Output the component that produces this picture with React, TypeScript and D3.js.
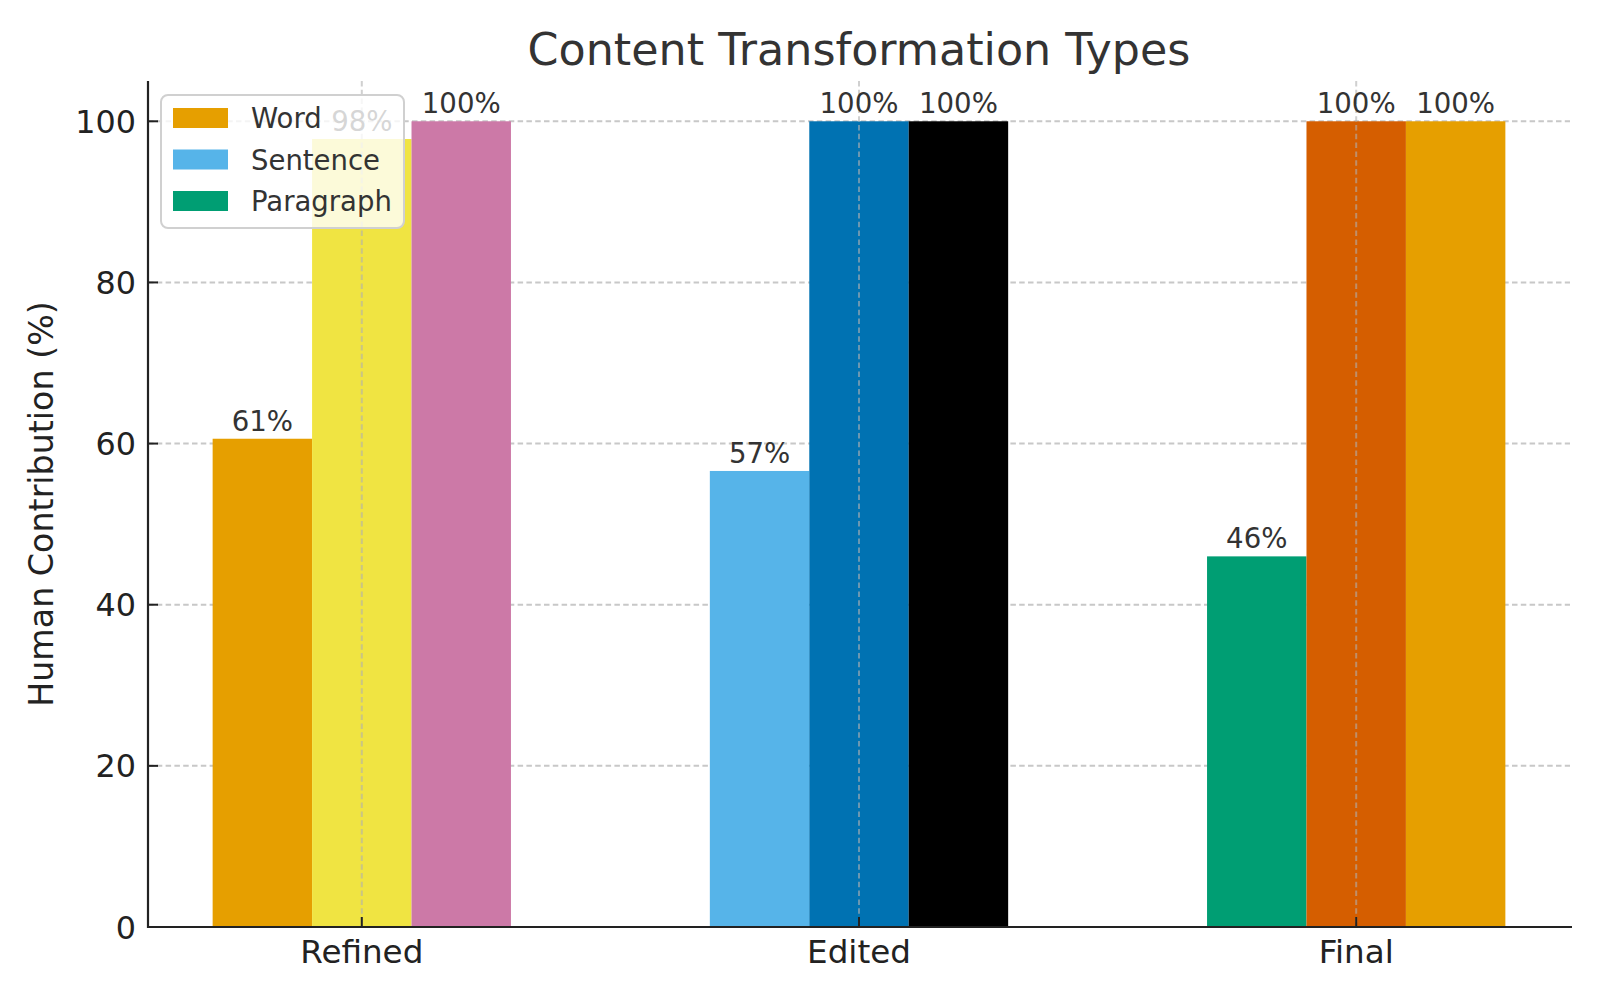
import React from "react";
import * as d3 from "d3";

const categories = ["Refined", "Edited", "Final"];
const firstBarValues = [60.6, 56.6, 46.0];
const secondBarValues = [97.8, 100, 100];
const thirdBarValues = [100, 100, 100];
const barColors = [
  ["#E69F00", "#F0E442", "#CC79A7"],
  ["#56B4E9", "#0072B2", "#000000"],
  ["#009E73", "#D55E00", "#E69F00"],
];
const legendLabels = ["Word", "Sentence", "Paragraph"];
const legendColors = ["#E69F00", "#56B4E9", "#009E73"];
const yTicks = [0, 20, 40, 60, 80, 100];
const barOffsets = [-0.2, 0, 0.2];
const barWidth = 0.2;

const W = 1600;
const H = 1000;
const left = 148;
const right = 1570;
const top = 81;
const bottom = 927;
const font = "DejaVu Sans, sans-serif";

export default function App() {
  const x = d3.scaleLinear().domain([-0.43, 2.43]).range([left, right]);
  const y = d3.scaleLinear().domain([0, 105]).range([bottom, top]);
  const series = [firstBarValues, secondBarValues, thirdBarValues];
  const bw = x(barWidth) - x(0);

  const bars: any[] = [];
  const labels: any[] = [];
  categories.forEach((c, ci) => {
    series.forEach((s, si) => {
      const v = s[ci];
      const cx = x(ci + barOffsets[si]);
      bars.push(
        <rect
          key={`b${ci}-${si}`}
          x={cx - bw / 2}
          y={y(v)}
          width={bw}
          height={bottom - y(v)}
          fill={barColors[ci][si]}
        />
      );
      labels.push(
        <text
          key={`l${ci}-${si}`}
          x={cx}
          y={y(v) - 8}
          textAnchor="middle"
          fontSize={27.6}
          fill="#333"
        >
          {`${Math.round(v)}%`}
        </text>
      );
    });
  });

  return (
    <svg width={W} height={H} style={{ display: "block", margin: -8 }} fontFamily={font}>
      <rect width={W} height={H} fill="#fff" />
      {/* horizontal grid behind bars */}
      {yTicks.map((t) => (
        <line
          key={`hg${t}`}
          x1={left}
          x2={right}
          y1={y(t)}
          y2={y(t)}
          stroke="#c8c8c8"
          strokeWidth={2}
          strokeDasharray="5.5 3.3"
        />
      ))}
      {bars}
      {/* vertical grid over bars */}
      {categories.map((c, i) => (
        <line
          key={`vg${c}`}
          x1={x(i)}
          x2={x(i)}
          y1={top}
          y2={bottom}
          stroke="#b0b0b0"
          strokeOpacity={0.6}
          strokeWidth={2}
          strokeDasharray="5.5 3.3"
        />
      ))}
      {labels}
      {/* spines */}
      <line x1={left} x2={left} y1={top} y2={bottom + 1} stroke="#222" strokeWidth={2.2} />
      <line x1={left - 1} x2={right + 2} y1={bottom} y2={bottom} stroke="#222" strokeWidth={2.2} />
      {/* y ticks */}
      {yTicks.map((t) => (
        <g key={`yt${t}`}>
          <line x1={left} x2={left + 10} y1={y(t)} y2={y(t)} stroke="#222" strokeWidth={2} />
          <text
            x={left - 12}
            y={y(t)}
            textAnchor="end"
            dominantBaseline="central"
            fontSize={31.8}
            fill="#222"
          >
            {t}
          </text>
        </g>
      ))}
      {/* x ticks */}
      {categories.map((c, i) => (
        <g key={`xt${c}`}>
          <line x1={x(i)} x2={x(i)} y1={bottom} y2={bottom - 10} stroke="#222" strokeWidth={2} />
          <text x={x(i)} y={963} textAnchor="middle" fontSize={32.6} fill="#222">
            {c}
          </text>
        </g>
      ))}
      {/* y label */}
      <text
        transform={`translate(53,${(top + bottom) / 2}) rotate(-90)`}
        textAnchor="middle"
        fontSize={33.3}
        fill="#222"
      >
        Human Contribution (%)
      </text>
      {/* title */}
      <text x={(left + right) / 2} y={65} textAnchor="middle" fontSize={44.4} fill="#333">
        Content Transformation Types
      </text>
      {/* legend */}
      <g>
        <rect
          x={161}
          y={95}
          width={243}
          height={133}
          rx={7}
          fill="#fff"
          fillOpacity={0.8}
          stroke="#d0d0d0"
          strokeWidth={2}
        />
        {legendLabels.map((l, i) => (
          <g key={`lg${l}`}>
            <rect x={173} y={108 + i * 41.5} width={55} height={20} fill={legendColors[i]} />
            <text
              x={251}
              y={118 + i * 41.5}
              dominantBaseline="central"
              fontSize={27.5}
              fill="#333"
            >
              {l}
            </text>
          </g>
        ))}
      </g>
    </svg>
  );
}
